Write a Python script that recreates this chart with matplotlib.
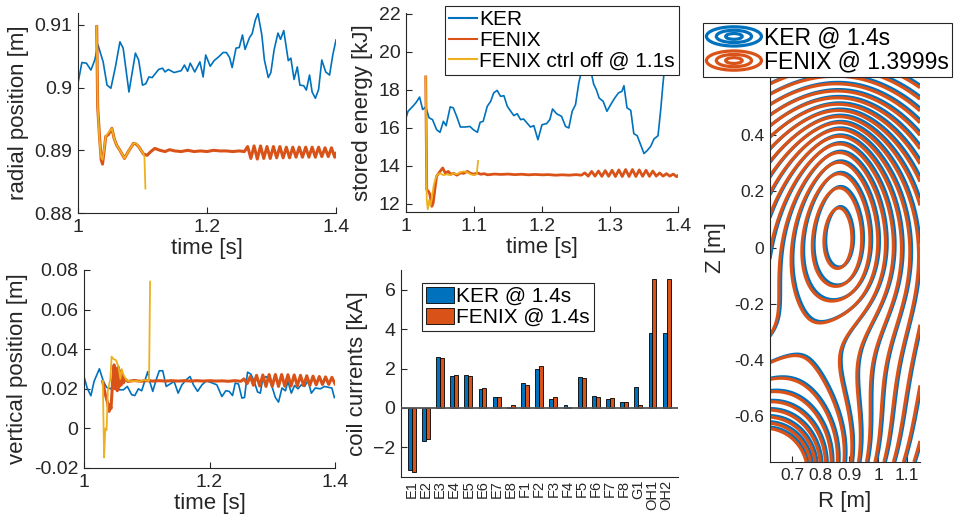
import numpy as np
import matplotlib.pyplot as plt
from matplotlib.patches import Ellipse, Rectangle
from matplotlib.legend_handler import HandlerBase
from matplotlib.lines import Line2D

plt.rcParams['font.family'] = ['Liberation Sans', 'DejaVu Sans']

BLUE = '#0072BD'
ORANGE = '#D95319'
YELLOW = '#EDB120'
AXC = '#262626'

# ---- radial position [m] : (time, value)
ker_radial = [(1.000, 0.9007), (1.006, 0.9040), (1.013, 0.9039), (1.020, 0.9028), (1.026, 0.9044),
              (1.031, 0.9068), (1.039, 0.9041), (1.045, 0.9004), (1.051, 0.8999), (1.058, 0.9033),
              (1.065, 0.9073), (1.070, 0.9063), (1.079, 0.8993), (1.089, 0.9055), (1.094, 0.9044),
              (1.100, 0.9004), (1.105, 0.9006), (1.110, 0.9017), (1.115, 0.9016), (1.125, 0.9029),
              (1.131, 0.9031), (1.135, 0.9025), (1.140, 0.9029), (1.149, 0.9024), (1.160, 0.9027),
              (1.165, 0.9036), (1.170, 0.9026), (1.174, 0.9039), (1.181, 0.9025), (1.189, 0.9041),
              (1.194, 0.9017), (1.198, 0.9052), (1.205, 0.9034), (1.211, 0.9043), (1.218, 0.9049),
              (1.225, 0.9056), (1.230, 0.9056), (1.235, 0.9048), (1.239, 0.9032), (1.245, 0.9063),
              (1.250, 0.9064), (1.255, 0.9084), (1.259, 0.9061), (1.266, 0.9080), (1.270, 0.9086),
              (1.275, 0.9108), (1.279, 0.9118), (1.285, 0.9084), (1.289, 0.9044), (1.295, 0.9016),
              (1.299, 0.9024), (1.304, 0.9060), (1.310, 0.9087), (1.314, 0.9077), (1.319, 0.9091),
              (1.326, 0.9043), (1.330, 0.9047), (1.335, 0.9013), (1.340, 0.9033), (1.344, 0.9004),
              (1.350, 0.9003), (1.354, 0.8996), (1.359, 0.9020), (1.363, 0.8993), (1.368, 0.8983),
              (1.373, 0.8997), (1.378, 0.9044), (1.384, 0.9025), (1.390, 0.9020), (1.395, 0.9052),
              (1.400, 0.9076)]
fenix_radial = [(1.029, 0.9097), (1.0305, 0.8969), (1.0335, 0.8920), (1.036, 0.8885), (1.038, 0.8878),
                (1.040, 0.8895), (1.043, 0.8922), (1.047, 0.8925), (1.0525, 0.8935), (1.056, 0.8919),
                (1.060, 0.8908), (1.065, 0.8900), (1.072, 0.8887), (1.078, 0.8898), (1.086, 0.8911),
                (1.090, 0.8910), (1.094, 0.8906), (1.1015, 0.8894), (1.107, 0.8892), (1.113, 0.8898),
                (1.119, 0.8903), (1.127, 0.8900), (1.135, 0.8898), (1.142, 0.8901), (1.150, 0.8899),
                (1.160, 0.8898), (1.170, 0.8900), (1.180, 0.8898), (1.190, 0.8899), (1.200, 0.8898),
                (1.210, 0.8900), (1.220, 0.8899), (1.230, 0.8899), (1.240, 0.8898), (1.250, 0.8899),
                (1.258, 0.8898), (1.263, 0.8906), (1.268, 0.8887), (1.273, 0.8907), (1.278, 0.8886),
                (1.283, 0.8907), (1.288, 0.8887), (1.293, 0.8906), (1.298, 0.8887), (1.303, 0.8906),
                (1.308, 0.8888), (1.313, 0.8906), (1.318, 0.8888), (1.323, 0.8905), (1.328, 0.8888),
                (1.333, 0.8905), (1.338, 0.8889), (1.343, 0.8905), (1.348, 0.8889), (1.353, 0.8905),
                (1.358, 0.8889), (1.363, 0.8905), (1.368, 0.8889), (1.373, 0.8905), (1.378, 0.8890),
                (1.383, 0.8904), (1.388, 0.8890), (1.393, 0.8904), (1.398, 0.8889), (1.400, 0.8895)]
fenix_off_radial = [(1.029, 0.9097), (1.0305, 0.8969), (1.0335, 0.8915), (1.0357, 0.8890), (1.038, 0.8885),
                    (1.040, 0.8898), (1.043, 0.8922), (1.047, 0.8928), (1.0525, 0.8935), (1.056, 0.8919),
                    (1.060, 0.8908), (1.065, 0.8900), (1.072, 0.8887), (1.078, 0.8898), (1.086, 0.8911),
                    (1.090, 0.8911), (1.094, 0.8906), (1.1015, 0.8894), (1.103, 0.8890), (1.1045, 0.8839)]

# ---- stored energy [kJ]
ker_energy = [(1.000, 16.52), (1.003, 16.87), (1.010, 17.13), (1.015, 17.34), (1.020, 17.62),
              (1.0245, 16.96), (1.029, 17.10), (1.034, 16.52), (1.039, 16.43), (1.045, 15.90),
              (1.050, 15.76), (1.055, 16.34), (1.059, 16.11), (1.065, 17.10), (1.0695, 17.05),
              (1.0745, 16.60), (1.080, 16.04), (1.087, 16.04), (1.094, 16.07), (1.099, 15.90),
              (1.105, 15.76), (1.109, 16.29), (1.1135, 16.34), (1.1195, 17.13), (1.1245, 17.39),
              (1.129, 17.84), (1.134, 17.97), (1.139, 17.66), (1.144, 17.69), (1.149, 17.13),
              (1.154, 16.87), (1.1586, 16.64), (1.1635, 16.74), (1.1685, 16.43), (1.173, 16.46),
              (1.178, 16.25), (1.183, 16.04), (1.188, 16.11), (1.194, 15.37), (1.200, 16.16),
              (1.2067, 16.22), (1.2115, 16.43), (1.2155, 16.99), (1.2214, 16.74), (1.2288, 16.60),
              (1.2346, 16.07), (1.2394, 15.99), (1.2444, 16.87), (1.2493, 17.22), (1.2541, 18.36),
              (1.260, 19.30), (1.267, 19.50), (1.273, 18.80), (1.276, 18.30), (1.280, 18.00),
              (1.284, 17.57), (1.290, 17.39), (1.2955, 16.87), (1.301, 17.22), (1.307, 17.57),
              (1.3125, 17.84), (1.3175, 17.92), (1.3205, 18.22), (1.325, 17.05), (1.3305, 16.92),
              (1.335, 15.69), (1.340, 15.58), (1.345, 15.11), (1.350, 14.64), (1.355, 14.81),
              (1.3598, 15.02), (1.3647, 15.41), (1.3706, 15.58), (1.3746, 16.96), (1.378, 18.36),
              (1.3815, 19.59), (1.390, 22.50), (1.400, 24.50)]
fenix_energy = [(1.029, 18.68), (1.0305, 12.74), (1.033, 12.65), (1.035, 12.50), (1.038, 11.86),
                (1.040, 12.04), (1.043, 12.90), (1.045, 13.44), (1.050, 13.70), (1.054, 13.88),
                (1.058, 13.60), (1.062, 13.70), (1.066, 13.55), (1.070, 13.60), (1.075, 13.50),
                (1.080, 13.62), (1.085, 13.60), (1.090, 13.70), (1.095, 13.60), (1.100, 13.55),
                (1.105, 13.62), (1.110, 13.55), (1.115, 13.58), (1.120, 13.52), (1.130, 13.56),
                (1.140, 13.54), (1.150, 13.56), (1.160, 13.53), (1.170, 13.55), (1.180, 13.52),
                (1.190, 13.54), (1.200, 13.52), (1.210, 13.53), (1.220, 13.50), (1.230, 13.52),
                (1.240, 13.50), (1.250, 13.53), (1.258, 13.50), (1.263, 13.62), (1.268, 13.45),
                (1.273, 13.70), (1.278, 13.45), (1.283, 13.72), (1.288, 13.44), (1.293, 13.74),
                (1.298, 13.44), (1.303, 13.76), (1.308, 13.43), (1.313, 13.78), (1.318, 13.43),
                (1.323, 13.80), (1.328, 13.43), (1.333, 13.80), (1.338, 13.43), (1.343, 13.78),
                (1.348, 13.44), (1.353, 13.76), (1.358, 13.44), (1.363, 13.72), (1.368, 13.45),
                (1.373, 13.62), (1.378, 13.45), (1.383, 13.58), (1.388, 13.45), (1.393, 13.56),
                (1.398, 13.42), (1.400, 13.48)]
fenix_off_energy = [(1.029, 18.68), (1.0305, 12.20), (1.032, 11.70), (1.034, 12.20), (1.036, 11.90),
                    (1.038, 12.30), (1.041, 13.00), (1.044, 13.40), (1.047, 13.55), (1.050, 13.60),
                    (1.055, 13.50), (1.060, 13.55), (1.065, 13.50), (1.070, 13.60), (1.075, 13.55),
                    (1.080, 13.65), (1.085, 13.70), (1.090, 13.65), (1.095, 13.55), (1.100, 13.50),
                    (1.104, 13.55), (1.106, 14.25)]

# ---- vertical position [m]
ker_vertical = [(1.000, 0.0262), (1.005, 0.0204), (1.011, 0.0165), (1.016, 0.0237), (1.0245, 0.0301),
                (1.031, 0.0237), (1.036, 0.0207), (1.0426, 0.0200), (1.0495, 0.0229), (1.0564, 0.0195),
                (1.063, 0.0195), (1.069, 0.0212), (1.076, 0.0170), (1.081, 0.0166), (1.0867, 0.0200),
                (1.092, 0.0190), (1.0963, 0.0234), (1.1016, 0.0287), (1.105, 0.0234), (1.1096, 0.0187),
                (1.115, 0.0246), (1.120, 0.0291), (1.1255, 0.0291), (1.131, 0.0212), (1.137, 0.0224),
                (1.1436, 0.0237), (1.150, 0.0178), (1.156, 0.0220), (1.163, 0.0246), (1.169, 0.0262),
                (1.1744, 0.0220), (1.181, 0.0187), (1.188, 0.0220), (1.195, 0.0240), (1.2048, 0.0229),
                (1.2117, 0.0220), (1.2197, 0.0161), (1.226, 0.0190), (1.2314, 0.0187), (1.2367, 0.0166),
                (1.241, 0.0229), (1.2462, 0.0224), (1.2516, 0.0153), (1.2558, 0.0156), (1.2606, 0.0284),
                (1.266, 0.0274), (1.2713, 0.0237), (1.2766, 0.0184), (1.281, 0.0178), (1.2846, 0.0246),
                (1.290, 0.0262), (1.2953, 0.0246), (1.2995, 0.0212), (1.305, 0.0156), (1.310, 0.0133),
                (1.3155, 0.0204), (1.321, 0.0190), (1.325, 0.0237), (1.3304, 0.0178), (1.3356, 0.0217),
                (1.341, 0.0200), (1.3463, 0.0220), (1.3516, 0.0212), (1.357, 0.0241), (1.3623, 0.0178),
                (1.3686, 0.0204), (1.3766, 0.0200), (1.3835, 0.0212), (1.3898, 0.0207), (1.395, 0.0204),
                (1.399, 0.0156)]
fenix_vertical = [(1.0298, 0.0237), (1.0335, 0.0178), (1.037, 0.0136), (1.040, 0.0086), (1.0415, 0.0120),
                  (1.043, 0.0100), (1.0458, 0.0246), (1.048, 0.0321), (1.0495, 0.0200), (1.051, 0.0300),
                  (1.053, 0.0190), (1.0545, 0.0310), (1.056, 0.0210), (1.058, 0.0290), (1.0595, 0.0220),
                  (1.061, 0.0270), (1.063, 0.0230), (1.065, 0.0250), (1.070, 0.0237), (1.080, 0.0242),
                  (1.090, 0.0238), (1.100, 0.0241), (1.110, 0.0239), (1.120, 0.0241), (1.130, 0.0239),
                  (1.140, 0.0241), (1.150, 0.0239), (1.160, 0.0241), (1.170, 0.0239), (1.180, 0.0241),
                  (1.190, 0.0239), (1.200, 0.0241), (1.210, 0.0239), (1.220, 0.0240), (1.230, 0.0238),
                  (1.240, 0.0241), (1.250, 0.0238), (1.255, 0.0250), (1.260, 0.0226), (1.265, 0.0262),
                  (1.270, 0.0218), (1.275, 0.0268), (1.280, 0.0214), (1.285, 0.0270), (1.290, 0.0212),
                  (1.295, 0.0272), (1.300, 0.0212), (1.305, 0.0272), (1.310, 0.0212), (1.315, 0.0272),
                  (1.320, 0.0213), (1.325, 0.0271), (1.330, 0.0214), (1.335, 0.0270), (1.340, 0.0215),
                  (1.345, 0.0268), (1.350, 0.0216), (1.355, 0.0266), (1.360, 0.0218), (1.365, 0.0264),
                  (1.370, 0.0220), (1.375, 0.0262), (1.380, 0.0222), (1.385, 0.0260), (1.390, 0.0222),
                  (1.395, 0.0258), (1.400, 0.0225)]
fenix_off_vertical = [(1.030, 0.0240), (1.032, -0.0146), (1.034, 0.0000), (1.036, -0.0008), (1.038, 0.0190),
                      (1.042, 0.0250), (1.044, 0.0363), (1.047, 0.0350), (1.051, 0.0345), (1.055, 0.0310),
                      (1.058, 0.0250), (1.060, 0.0300), (1.063, 0.0270), (1.068, 0.0243), (1.074, 0.0237),
                      (1.080, 0.0240), (1.090, 0.0237), (1.095, 0.0245), (1.103, 0.0240), (1.1037, 0.0245),
                      (1.1053, 0.0741)]

# ---- coil currents [kA] at 1.4 s
coil_names = ['E1', 'E2', 'E3', 'E4', 'E5', 'E6', 'E7', 'E8', 'F1', 'F2', 'F3', 'F4',
              'F5', 'F6', 'F7', 'F8', 'G1', 'OH1', 'OH2']
coil_ker = [-3.16, -1.69, 2.59, 1.62, 1.69, 0.98, 0.54, 0.03, 1.28, 1.99, 0.44, 0.15,
            1.59, 0.61, 0.47, 0.30, 1.08, 3.79, 3.79]
coil_fenix = [-3.24, -1.59, 2.54, 1.69, 1.62, 1.01, 0.57, 0.17, 1.15, 2.11, 0.56, 0.07,
              1.54, 0.57, 0.52, 0.29, 0.14, 6.56, 6.56]

# ---- flux map model (vessel cross-section)
vessel_r = (0.6235, 1.1452)
vessel_z = (-0.764, 0.764)
plasma_center = (0.875, 0.16)
plasma_half_height = 0.28
plasma_core = 0.08
vertical_field = 0.0
div_coil = (0.60, -0.82, 1.15)      # R, Z, current relative to plasma
n_inner = 6.0                       # flux steps from axis to inner wall
level_range = (-4, 18)
fenix_shift = (-0.006, -0.005)


def flux(rr, zz, dr=0.0, dz=0.0):
    x = rr - plasma_center[0] - dr
    y = zz - plasma_center[1] - dz
    psi = np.zeros_like(rr)
    ys = np.linspace(-plasma_half_height, plasma_half_height, 9)
    for yj in ys:
        psi += 0.5 / len(ys) * np.log(x ** 2 + (y - yj) ** 2 + plasma_core ** 2)
    psi += vertical_field * x
    cr, cz, ci = div_coil
    psi += 0.5 * ci * np.log((rr - cr - dr) ** 2 + (zz - cz - dz) ** 2)
    return psi


class ContourIcon(HandlerBase):
    def create_artists(self, legend, orig_handle, xdescent, ydescent, width, height, fontsize, trans):
        cx, cy = width / 2 - xdescent, height / 2 - ydescent
        return [Ellipse((cx, cy), width * f, height * f * 1.2, fill=False,
                        edgecolor=orig_handle.get_color(), linewidth=orig_handle.get_linewidth(),
                        transform=trans) for f in (1.0, 0.64, 0.3)]


def style(ax, size=14):
    for s in ('top', 'right'):
        ax.spines[s].set_visible(False)
    for s in ('left', 'bottom'):
        ax.spines[s].set_color(AXC)
        ax.spines[s].set_linewidth(0.8)
    ax.tick_params(direction='in', length=4, width=0.8, color=AXC, labelcolor=AXC, labelsize=size, pad=4)


def series(ax, data, color, lw):
    arr = np.array(data)
    ax.plot(arr[:, 0], arr[:, 1], color=color, lw=lw)


fig = plt.figure(figsize=(9.59, 5.19), dpi=100)
W, H = 959, 519


def add_axes(x0, y0, x1, y1):
    return fig.add_axes([x0 / W, 1 - y1 / H, (x1 - x0) / W, (y1 - y0) / H])


# radial
ax1 = add_axes(78, 13, 336, 213)
series(ax1, ker_radial, BLUE, 1.2)
series(ax1, fenix_radial, ORANGE, 2.2)
series(ax1, fenix_off_radial, YELLOW, 1.3)
ax1.set_xlim(1, 1.4)
ax1.set_ylim(0.88, 0.9119)
ax1.set_xticks([1, 1.2, 1.4], ['1', '1.2', '1.4'])
ax1.set_yticks([0.88, 0.89, 0.9, 0.91], ['0.88', '0.89', '0.9', '0.91'])
ax1.set_xlabel('time [s]', fontsize=16, color=AXC, labelpad=2)
ax1.set_ylabel('radial position [m]', fontsize=16, color=AXC, labelpad=4)
style(ax1)

# stored energy
ax2 = add_axes(406, 13, 678, 212)
series(ax2, ker_energy, BLUE, 1.2)
series(ax2, fenix_energy, ORANGE, 2.0)
series(ax2, fenix_off_energy, YELLOW, 1.3)
ax2.set_xlim(1, 1.4)
ax2.set_ylim(11.56, 22.05)
ax2.set_xticks([1, 1.1, 1.2, 1.3, 1.4], ['1', '1.1', '1.2', '1.3', '1.4'])
ax2.set_yticks([12, 14, 16, 18, 20, 22])
ax2.set_xlabel('time [s]', fontsize=16, color=AXC, labelpad=2)
ax2.set_ylabel('stored energy [kJ]', fontsize=16, color=AXC, labelpad=4)
style(ax2)
leg = ax2.legend([Line2D([], [], color=c, lw=1.5) for c in (BLUE, ORANGE, YELLOW)],
                 ['KER', 'FENIX', 'FENIX ctrl off @ 1.1s'], loc='upper right',
                 bbox_to_anchor=(679 / W, 1 - 6 / H), bbox_transform=fig.transFigure,
                 fontsize=15, frameon=True, fancybox=False, framealpha=1, edgecolor=AXC,
                 borderaxespad=0, borderpad=0.2, handlelength=1.35, handletextpad=0.1, labelspacing=0.08)
leg.get_frame().set_linewidth(0.8)

# vertical
ax3 = add_axes(84, 270, 335, 468)
series(ax3, ker_vertical, BLUE, 1.2)
series(ax3, fenix_vertical, ORANGE, 2.2)
series(ax3, fenix_off_vertical, YELLOW, 1.3)
ax3.set_xlim(1, 1.4)
ax3.set_ylim(-0.02, 0.08)
ax3.set_xticks([1, 1.2, 1.4], ['1', '1.2', '1.4'])
ax3.set_yticks([-0.02, 0, 0.02, 0.04, 0.06, 0.08], ['-0.02', '0', '0.02', '0.04', '0.06', '0.08'])
ax3.set_xlabel('time [s]', fontsize=16, color=AXC, labelpad=2)
ax3.set_ylabel('vertical position [m]', fontsize=16, color=AXC, labelpad=4)
style(ax3)

# coil currents
ax4 = add_axes(401, 270, 678, 477)
x = np.arange(1, len(coil_names) + 1)
ax4.bar(x - 0.14, coil_ker, width=0.28, color=BLUE, edgecolor='black', linewidth=0.6, zorder=2)
ax4.bar(x + 0.14, coil_fenix, width=0.28, color=ORANGE, edgecolor='black', linewidth=0.6, zorder=2)
ax4.axhline(0, color='#555555', lw=1.3, zorder=3)
ax4.set_xlim(0.25, 19.8)
ax4.set_ylim(-3.5, 7)
ax4.set_yticks([-2, 0, 2, 4, 6])
ax4.set_xticks(x, coil_names, rotation=90)
ax4.set_ylabel('coil currents [kA]', fontsize=16, color=AXC, labelpad=4)
style(ax4)
ax4.tick_params(axis='x', length=0, pad=2, labelsize=10.5)
leg = ax4.legend([Rectangle((0, 0), 1, 1, facecolor=c, edgecolor='black', lw=0.6) for c in (BLUE, ORANGE)],
                 ['KER @ 1.4s', 'FENIX @ 1.4s'], loc='upper left',
                 bbox_to_anchor=(422 / W, 1 - 283 / H), bbox_transform=fig.transFigure,
                 fontsize=15, frameon=True, fancybox=False, framealpha=1, edgecolor=AXC,
                 borderaxespad=0, borderpad=0.2, handlelength=1.35, handleheight=0.75,
                 handletextpad=0.1, labelspacing=0.1)
leg.get_frame().set_linewidth(0.8)

# flux surfaces
ax5 = add_axes(770, 33, 920, 462)
rr, zz = np.meshgrid(np.linspace(*vessel_r, 260), np.linspace(*vessel_z, 640))
psi_ker = flux(rr, zz)
psi_fenix = flux(rr, zz, *fenix_shift)
core = (np.abs(rr - 0.875) < 0.1) & (np.abs(zz - 0.03) < 0.15)
k_axis = np.argmin(np.where(core, psi_ker, np.inf))
psi_axis = psi_ker.flat[k_axis]
iz_axis = np.unravel_index(k_axis, psi_ker.shape)[0]
dpsi = (psi_ker[iz_axis, 0] - psi_axis) / n_inner
levels = psi_axis + dpsi * (np.arange(*level_range) + 0.6)
ax5.contour(rr, zz, psi_ker, levels=levels, colors=BLUE, linewidths=2.3, linestyles='solid')
ax5.contour(rr, zz, psi_fenix, levels=levels, colors=ORANGE, linewidths=2.3, linestyles='solid')
ax5.set_xlim(*vessel_r)
ax5.set_ylim(*vessel_z)
ax5.set_xticks([0.7, 0.8, 0.9, 1, 1.1], ['0.7', '0.8', '0.9', '1', '1.1'])
ax5.set_yticks([-0.6, -0.4, -0.2, 0, 0.2, 0.4], ['-0.6', '-0.4', '-0.2', '0', '0.2', '0.4'])
ax5.set_xlabel('R [m]', fontsize=16, color=AXC, labelpad=6)
ax5.set_ylabel('Z [m]', fontsize=16, color=AXC, labelpad=6)
style(ax5, size=12.5)
leg = ax5.legend([Line2D([], [], color=c, lw=2.3) for c in (BLUE, ORANGE)],
                 ['KER @ 1.4s', 'FENIX @ 1.3999s'], loc='upper left',
                 handler_map={Line2D: ContourIcon()},
                 bbox_to_anchor=(703 / W, 1 - 23 / H), bbox_transform=fig.transFigure,
                 fontsize=16.5, frameon=True, fancybox=False, framealpha=1, edgecolor=AXC,
                 borderaxespad=0, borderpad=0.15, handlelength=2.4, handleheight=0.7,
                 handletextpad=0.1, labelspacing=0.05)
leg.get_frame().set_linewidth(0.8)
leg.set_zorder(10)

fig.savefig('out.png', dpi=100)
